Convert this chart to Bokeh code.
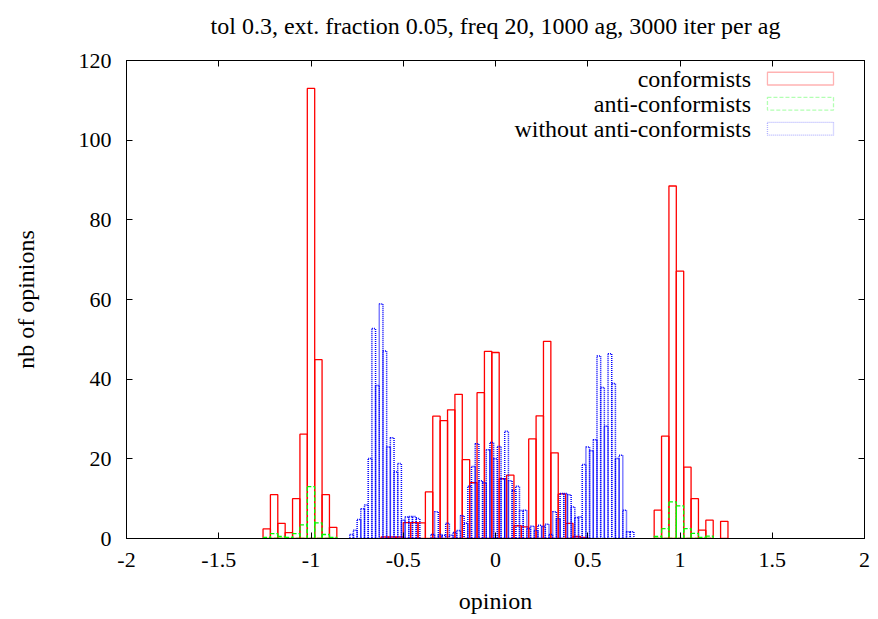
from bokeh.plotting import figure
from bokeh.models import Range1d, LinearAxis, FixedTicker, Label, BoxAnnotation
from bokeh.embed import file_html
from bokeh.resources import INLINE

# ---------------- data ----------------
title_text = "tol 0.3, ext. fraction 0.05, freq 20, 1000 ag, 3000 iter per ag"
x_label = "opinion"
y_label = "nb of opinions"
series_names = ["conformists", "anti-conformists", "without anti-conformists"]

x_ticks = [-2.0, -1.5, -1.0, -0.5, 0.0, 0.5, 1.0, 1.5, 2.0]
x_tick_labels = ["-2", "-1.5", "-1", "-0.5", "0", "0.5", "1", "1.5", "2"]
y_ticks = [0, 20, 40, 60, 80, 100, 120]
y_tick_labels = ["0", "20", "40", "60", "80", "100", "120"]

conf_x = [-1.24, -1.20, -1.16, -1.12, -1.08, -1.04, -1.00, -0.96, -0.92, -0.88,
          -0.60, -0.56, -0.52, -0.48, -0.44, -0.40, -0.36, -0.32, -0.28, -0.24,
          -0.20, -0.16, -0.12, -0.08, -0.04, 0.00, 0.04, 0.08, 0.12, 0.16,
          0.20, 0.24, 0.28, 0.32, 0.36, 0.40, 0.44, 0.48,
          0.88, 0.92, 0.96, 1.00, 1.04, 1.08, 1.12, 1.16, 1.24]
conf_y = [2.4, 11.0, 3.8, 1.5, 10.0, 26.2, 113.0, 44.9, 11.0, 2.8,
          0.4, 0.4, 0.4, 4.0, 4.0, 3.9, 11.7, 30.7, 29.6, 32.3,
          36.2, 19.8, 14.0, 36.6, 47.0, 46.7, 15.0, 15.9, 3.2, 2.9,
          25.0, 30.8, 49.5, 21.5, 11.2, 3.8, 0.5, 0.3,
          7.1, 25.7, 88.5, 67.1, 17.9, 10.0, 2.1, 4.6, 4.3]

anti_x = [-1.24, -1.20, -1.16, -1.12, -1.08, -1.04, -1.00, -0.96, -0.92, -0.88,
          0.88, 0.92, 0.96, 1.00, 1.04, 1.08, 1.12, 1.16]
anti_y = [0.3, 1.2, 0.5, 0.3, 1.2, 3.4, 13.0, 3.9, 1.0, 0.3,
          0.5, 2.5, 9.2, 8.2, 2.5, 1.3, 0.3, 0.6]

wo_x = [-0.78, -0.76, -0.74, -0.72, -0.70, -0.68, -0.66, -0.64, -0.62, -0.60,
        -0.58, -0.56, -0.54, -0.52, -0.50, -0.48, -0.46, -0.44, -0.42,
        -0.34, -0.32, -0.30, -0.28, -0.26, -0.24, -0.22, -0.20, -0.18, -0.16,
        -0.14, -0.12, -0.10, -0.08, -0.06, -0.04, -0.02, 0.00, 0.02, 0.04,
        0.06, 0.08, 0.10, 0.12, 0.14, 0.16, 0.18, 0.20, 0.22, 0.24,
        0.26, 0.28, 0.30, 0.32, 0.34, 0.36, 0.38, 0.40, 0.42, 0.44,
        0.46, 0.48, 0.50, 0.52, 0.54, 0.56, 0.58, 0.60, 0.62, 0.64,
        0.66, 0.68, 0.70, 0.72, 0.74]
wo_y = [1.0, 2.1, 4.8, 7.5, 8.4, 20.1, 52.7, 38.4, 58.9, 47.1,
        23.0, 25.3, 16.7, 18.8, 4.6, 5.4, 5.5, 5.5, 5.0,
        1.0, 6.7, 1.0, 0.8, 3.8, 0.8, 1.5, 2.0, 5.7, 3.8,
        13.1, 18.1, 23.8, 14.5, 14.0, 22.3, 24.1, 20.0, 23.1, 15.0,
        26.9, 14.5, 12.0, 13.1, 7.0, 7.1, 2.5, 3.1, 2.0, 3.3,
        3.0, 3.6, 1.0, 6.7, 5.0, 11.3, 11.3, 11.0, 7.9, 5.3,
        5.4, 18.6, 23.0, 22.0, 24.8, 45.8, 37.9, 28.2, 46.4, 38.9,
        20.1, 20.9, 7.1, 1.7, 1.7]

# ---------------- figure ----------------
FONT = "Liberation Serif"
RED, GREEN, BLUE = "#ff0000", "#00ff00", "#0000ff"

p = figure(width=878, height=618, output_backend="svg", toolbar_location=None,
           x_range=Range1d(-2, 2), y_range=Range1d(0, 120),
           min_border_left=126, min_border_right=14, min_border_top=60,
           min_border_bottom=80)
p.background_fill_color = "white"
p.border_fill_color = "white"
p.outline_line_color = "black"
p.outline_line_width = 1
p.xgrid.visible = False
p.ygrid.visible = False

def style_axis(ax, labels=True):
    ax.major_tick_in = 6
    ax.major_tick_out = 0
    ax.minor_tick_line_color = None
    ax.axis_line_color = "black"
    ax.major_tick_line_color = "black"
    ax.major_label_text_font = FONT
    ax.major_label_text_color = "black"
    ax.axis_label_text_font = FONT
    ax.axis_label_text_font_style = "normal"
    ax.axis_label_text_color = "black"
    if labels:
        ax.major_label_text_font_size = "22px"
        ax.axis_label_text_font_size = "24px"
    else:
        ax.major_label_text_font_size = "1px"
        ax.major_label_text_color = None
        ax.major_label_standoff = 0

xa = p.xaxis[0]
ya = p.yaxis[0]
xa.ticker = FixedTicker(ticks=x_ticks)
ya.ticker = FixedTicker(ticks=y_ticks)
xa.major_label_overrides = dict(zip(x_ticks, x_tick_labels))
ya.major_label_overrides = {float(k): v for k, v in zip(y_ticks, y_tick_labels)}
style_axis(xa)
style_axis(ya)
xa.axis_label = x_label
ya.axis_label = y_label
xa.major_label_standoff = 14
xa.axis_label_standoff = 18
ya.major_label_standoff = 15
ya.axis_label_standoff = 37

# top mirror axis: ticks only, its axis label carries the chart title
top_ax = LinearAxis(ticker=FixedTicker(ticks=x_ticks))
style_axis(top_ax, labels=False)
top_ax.axis_label = title_text
top_ax.axis_label_text_font_size = "24px"
top_ax.axis_label_standoff = 22
p.add_layout(top_ax, "above")

right_ax = LinearAxis(ticker=FixedTicker(ticks=y_ticks))
style_axis(right_ax, labels=False)
p.add_layout(right_ax, "right")

# bars
p.vbar(x=conf_x, top=conf_y, bottom=0, width=0.04, fill_color=None,
       line_color=RED, line_width=1.3)
p.vbar(x=anti_x, top=anti_y, bottom=0, width=0.04, fill_color=None,
       line_color=GREEN, line_width=1.3, line_dash="4 2")
p.vbar(x=wo_x, top=wo_y, bottom=0, width=0.02, fill_color=None,
       line_color=BLUE, line_width=1.5, line_dash="1 1")

# legend (gnuplot style: right-aligned text, sample box to the right)
leg_colors = [RED, GREEN, BLUE]
leg_dashes = ["solid", "4 2", "1 1"]
leg_y = [115.45, 109.15, 102.85]
for name, col, dash, yy in zip(series_names, leg_colors, leg_dashes, leg_y):
    p.add_layout(Label(x=1.385, y=yy, text=name, text_align="right",
                       text_baseline="middle", text_font=FONT,
                       text_font_size="24px", text_color="black"))
    p.add_layout(BoxAnnotation(left=1.474, right=1.832, bottom=yy - 1.6,
                               top=yy + 1.6, fill_color=None, fill_alpha=0,
                               line_color=col, line_width=1.3, line_dash=dash))

open("out.html", "w").write(file_html(p, INLINE))
